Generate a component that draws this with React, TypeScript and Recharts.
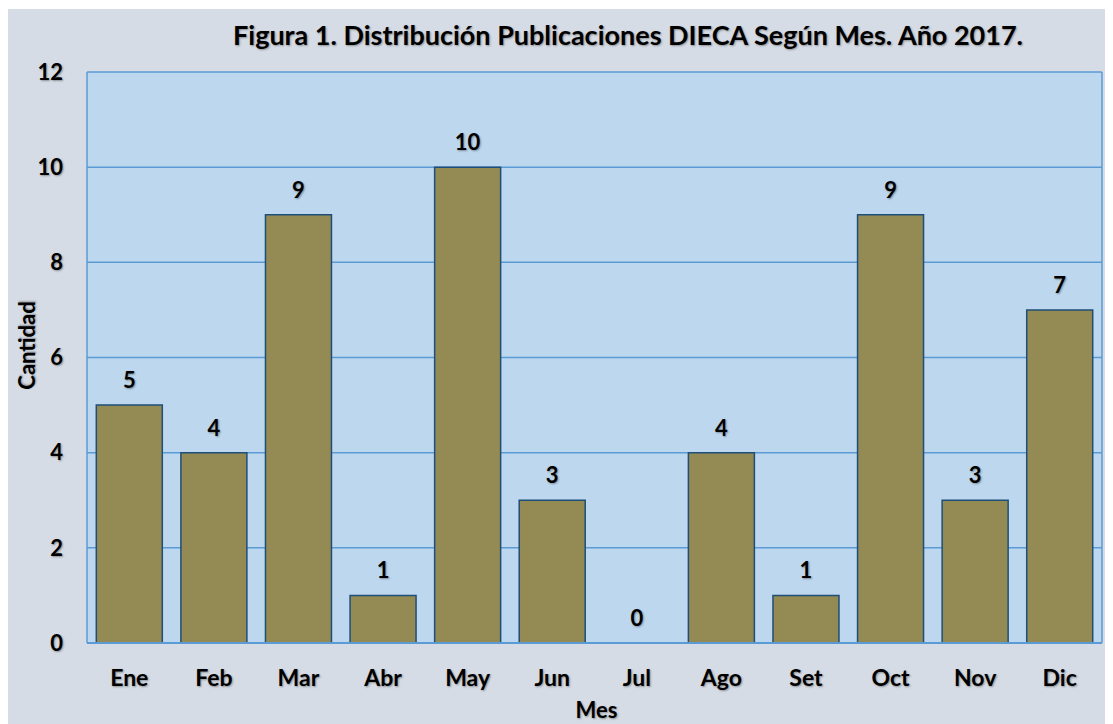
import React from 'react';
import { ComposedChart, Bar, Line, XAxis, YAxis, CartesianGrid, LabelList } from 'recharts';

// Publicaciones DIECA por mes, 2017
const months = ['Ene', 'Feb', 'Mar', 'Abr', 'May', 'Jun', 'Jul', 'Ago', 'Set', 'Oct', 'Nov', 'Dic'];
const counts = [5, 4, 9, 1, 10, 3, 0, 4, 1, 9, 3, 7];
const yTicks = [0, 2, 4, 6, 8, 10, 12];

const data = months.map((mes, i) => ({ mes, cantidad: counts[i] }));

const FONT = 'Lato, "Open Sans", sans-serif';
const shadow = '1px 1px 2px rgba(0,0,0,0.35)';

export default function App() {
  return (
    <div
      style={{
        position: 'relative',
        marginLeft: -1,
        marginTop: 1,
        width: 1106,
        height: 715,
        background: '#d6dce5',
        fontFamily: FONT,
      }}
    >
      <div
        style={{
          position: 'absolute',
          left: 0,
          width: 1242,
          top: 9,
          textAlign: 'center',
          fontSize: 27,
          fontWeight: 700,
          color: '#000',
          textShadow: shadow,
        }}
      >
        Figura 1. Distribución Publicaciones DIECA Según Mes. Año 2017.
      </div>
      <ComposedChart
        width={1106}
        height={715}
        data={data}
        margin={{ top: 63, right: 11, bottom: 0, left: 0 }}
        barCategoryGap="11%"
      >
        {/* fondo del área de trazado y líneas de cuadrícula */}
        <CartesianGrid
          fill="#bdd7ee"
          fillOpacity={1}
          stroke="#5b9bd5"
          strokeWidth={1.5}
          verticalCoordinatesGenerator={({ offset }: any) => [offset.left, offset.left + offset.width]}
        />
        <XAxis
          dataKey="mes"
          height={81}
          tickSize={0}
          tickMargin={27}
          axisLine={{ stroke: '#5b9bd5', strokeWidth: 2 }}
          tick={{ fontSize: 23, fontWeight: 700, fill: '#000', fontFamily: FONT, style: { textShadow: shadow } }}
          label={{
            value: 'Mes',
            content: ({ viewBox }: any) => (
              <text
                x={viewBox.x + viewBox.width / 2 + 2}
                y={viewBox.y + 75}
                textAnchor="middle"
                fontSize={22}
                fontWeight={700}
                fontFamily={FONT}
                fill="#000"
                style={{ textShadow: shadow }}
              >
                Mes
              </text>
            ),
          }}
        />
        <YAxis
          width={80}
          domain={[0, 12]}
          ticks={yTicks}
          interval={0}
          tickSize={0}
          tickMargin={24}
          axisLine={false}
          tick={{ fontSize: 22, fontWeight: 700, fill: '#000', fontFamily: FONT, style: { textShadow: shadow } }}
          label={{
            value: 'Cantidad',
            content: ({ viewBox }: any) => {
              const x = 28;
              const y = viewBox.y + viewBox.height / 2 - 12;
              return (
                <text
                  x={x}
                  y={y}
                  transform={`rotate(-90, ${x}, ${y})`}
                  textAnchor="middle"
                  fontSize={22}
                  fontWeight={700}
                  fontFamily={FONT}
                  fill="#000"
                  style={{ textShadow: shadow }}
                >
                  Cantidad
                </text>
              );
            },
          }}
        />
        <Bar dataKey="cantidad" fill="#948a54" stroke="#1f4e79" strokeWidth={1.5} isAnimationActive={false} />
        {/* serie invisible solo para las etiquetas (incluye el 0 de Jul) */}
        <Line dataKey="cantidad" stroke="none" dot={false} activeDot={false} legendType="none" isAnimationActive={false}>
          <LabelList
            dataKey="cantidad"
            position="top"
            offset={17}
            fill="#000"
            fontSize={22}
            fontWeight={700}
            fontFamily={FONT}
            style={{ textShadow: shadow }}
          />
        </Line>
      </ComposedChart>
    </div>
  );
}
